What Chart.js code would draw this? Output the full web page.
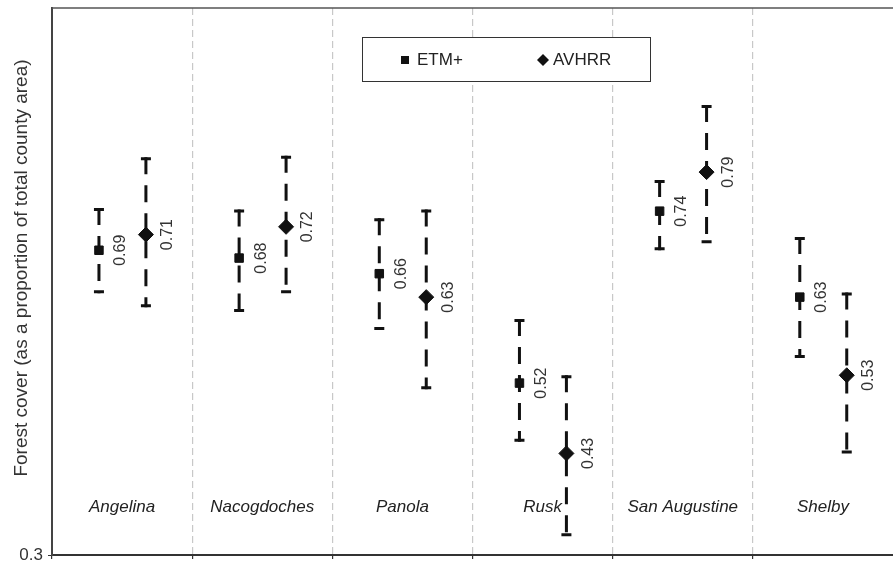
<!DOCTYPE html>
<html lang="en">
<head>
    <meta charset="UTF-8">
    <title>Forest cover by county</title>
    <script src="https://cdn.jsdelivr.net/npm/chart.js"></script>
    <style>
        html, body {
            margin: 0;
            padding: 0;
            background: #fff;
        }
        #wrap {
            width: 893px;
            height: 562px;
        }
    </style>
</head>
<body>
    <div id="wrap"><canvas id="forestChart"></canvas></div>

    <script>
        // counties and estimates
        const counties = ['Angelina', 'Nacogdoches', 'Panola', 'Rusk', 'San Augustine', 'Shelby'];

        const etmValues = [0.69, 0.68, 0.66, 0.52, 0.74, 0.63];
        const etmLow    = [0.635, 0.611, 0.588, 0.445, 0.690, 0.552];
        const etmHigh   = [0.744, 0.742, 0.731, 0.602, 0.780, 0.707];

        const avhrrValues = [0.71, 0.72, 0.63, 0.43, 0.79, 0.53];
        const avhrrLow    = [0.617, 0.635, 0.512, 0.324, 0.699, 0.430];
        const avhrrHigh   = [0.809, 0.811, 0.742, 0.530, 0.876, 0.636];

        const yTicks = [0.3];
        const yTitle = 'Forest cover (as a proportion of total county area)';

        const ink = '#111';
        const textColor = '#333';
        const font = 'Liberation Sans, Arial, sans-serif';

        // draws the dashed error bars, value labels, county names, legend and frame
        const decorations = {
            id: 'decorations',
            beforeDatasetsDraw(chart) {
                const ctx = chart.ctx;
                const x = chart.scales.x;
                const y = chart.scales.y;
                ctx.save();
                chart.data.datasets.forEach(ds => {
                    ds.data.forEach(pt => {
                        const px = x.getPixelForValue(pt.x);
                        const top = y.getPixelForValue(pt.high);
                        const bot = y.getPixelForValue(pt.low);
                        ctx.strokeStyle = ink;
                        ctx.lineWidth = 3;
                        ctx.lineCap = 'butt';
                        ctx.setLineDash([17, 11]);
                        ctx.beginPath();
                        ctx.moveTo(px, top);
                        ctx.lineTo(px, bot);
                        ctx.stroke();
                        ctx.setLineDash([]);
                        ctx.beginPath();
                        ctx.moveTo(px - 5, top + 1.5);
                        ctx.lineTo(px + 5, top + 1.5);
                        ctx.moveTo(px - 5, bot - 1.5);
                        ctx.lineTo(px + 5, bot - 1.5);
                        ctx.stroke();
                    });
                });
                ctx.restore();
            },
            afterDatasetsDraw(chart) {
                const ctx = chart.ctx;
                const area = chart.chartArea;
                const x = chart.scales.x;
                const y = chart.scales.y;
                ctx.save();

                // value labels, rotated
                ctx.fillStyle = textColor;
                ctx.font = '16px ' + font;
                ctx.textAlign = 'center';
                ctx.textBaseline = 'middle';
                chart.data.datasets.forEach(ds => {
                    ds.data.forEach(pt => {
                        const px = x.getPixelForValue(pt.x) + 22;
                        const py = y.getPixelForValue(pt.y);
                        ctx.save();
                        ctx.translate(px, py);
                        ctx.rotate(-Math.PI / 2);
                        ctx.fillText(pt.y.toFixed(2), 0, 0);
                        ctx.restore();
                    });
                });

                // county names inside the plot
                ctx.fillStyle = '#222';
                ctx.font = 'italic 17px ' + font;
                counties.forEach((name, i) => {
                    ctx.fillText(name, x.getPixelForValue(i + 0.5), area.bottom - 48);
                });

                // top frame line
                ctx.strokeStyle = '#555';
                ctx.lineWidth = 1.5;
                ctx.beginPath();
                ctx.moveTo(area.left, area.top);
                ctx.lineTo(area.right, area.top);
                ctx.stroke();

                // y axis title
                ctx.fillStyle = textColor;
                ctx.font = '19px ' + font;
                ctx.save();
                ctx.translate(22, area.top + 260);
                ctx.rotate(-Math.PI / 2);
                ctx.fillText(yTitle, 0, 0);
                ctx.restore();

                // legend box
                const lx = area.left + 310, ly = area.top + 29, lw = 288, lh = 44;
                ctx.fillStyle = '#fff';
                ctx.fillRect(lx, ly, lw, lh);
                ctx.strokeStyle = '#333';
                ctx.lineWidth = 1;
                ctx.strokeRect(lx + 0.5, ly + 0.5, lw, lh);
                const cy = ly + lh / 2 + 1;
                ctx.fillStyle = ink;
                ctx.fillRect(lx + 39, cy - 4, 8, 8);
                ctx.beginPath();
                ctx.moveTo(lx + 181 - 6, cy);
                ctx.lineTo(lx + 181, cy - 6);
                ctx.lineTo(lx + 181 + 6, cy);
                ctx.lineTo(lx + 181, cy + 6);
                ctx.closePath();
                ctx.fill();
                ctx.fillStyle = '#222';
                ctx.font = '17px ' + font;
                ctx.textAlign = 'left';
                ctx.fillText('ETM+', lx + 55, cy);
                ctx.fillText('AVHRR', lx + 191, cy);

                ctx.restore();
            }
        };

        const etmPoints = counties.map((c, i) => ({ x: i + 0.335, y: etmValues[i], low: etmLow[i], high: etmHigh[i] }));
        const avhrrPoints = counties.map((c, i) => ({ x: i + 0.67, y: avhrrValues[i], low: avhrrLow[i], high: avhrrHigh[i] }));

        const ctx = document.getElementById('forestChart').getContext('2d');
        const forestChart = new Chart(ctx, {
            type: 'scatter',
            data: {
                datasets: [{
                    label: 'ETM+',
                    data: etmPoints,
                    pointStyle: 'rect',
                    pointRadius: 6,
                    pointBorderWidth: 1,
                    backgroundColor: ink,
                    borderColor: ink
                }, {
                    label: 'AVHRR',
                    data: avhrrPoints,
                    pointStyle: 'rectRot',
                    pointRadius: 7.5,
                    pointBorderWidth: 1,
                    backgroundColor: ink,
                    borderColor: ink
                }]
            },
            options: {
                responsive: true,
                maintainAspectRatio: false,
                animation: false,
                events: [],
                layout: { autoPadding: false, padding: { top: 8, right: 0, bottom: 0, left: 0 } },
                plugins: {
                    legend: { display: false },
                    tooltip: { enabled: false }
                },
                scales: {
                    x: {
                        type: 'linear',
                        min: 0,
                        max: counties.length,
                        afterFit: s => { s.height = 7; s.paddingLeft = 0; s.paddingRight = 0; },
                        ticks: { stepSize: 1, display: false },
                        grid: {
                            color: c => (c.tick.value > 0 && c.tick.value < counties.length) ? '#c8c8c8' : 'rgba(0,0,0,0)',
                            tickColor: c => c.tick.value < counties.length ? '#333' : 'rgba(0,0,0,0)',
                            tickLength: 4,
                            lineWidth: 1.2
                        },
                        border: { color: '#333', width: 2, dash: [7, 4] }
                    },
                    y: {
                        min: 0.3,
                        max: 1.0,
                        afterFit: s => { s.width = 52; s.paddingTop = 0; s.paddingBottom = 0; },
                        afterBuildTicks: s => { s.ticks = yTicks.map(v => ({ value: v })); },
                        ticks: {
                            color: textColor,
                            font: { family: font, size: 17 },
                            padding: 5,
                            callback: v => v.toFixed(1)
                        },
                        grid: {
                            drawOnChartArea: false,
                            tickLength: 4,
                            tickColor: '#333'
                        },
                        border: { color: '#444', width: 2 }
                    }
                }
            },
            plugins: [decorations]
        });
    </script>
</body>
</html>
